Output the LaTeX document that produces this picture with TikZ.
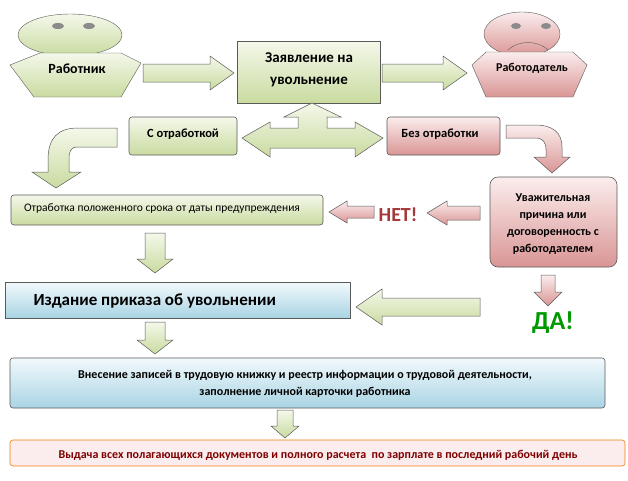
\documentclass[tikz,border=0pt]{standalone}
\usepackage{fontspec}
\setmainfont{Carlito}
\definecolor{gA}{HTML}{F4F8EA}\definecolor{gB}{HTML}{C9DBA0}
\definecolor{pA}{HTML}{FBEDED}\definecolor{pB}{HTML}{D99594}
\definecolor{bA}{HTML}{F2F9FC}\definecolor{bB}{HTML}{A9D4E4}
\definecolor{brd}{HTML}{5A5A5A}
\newcommand\fs[1]{\fontsize{#1}{#1}\selectfont}
\tikzset{
 gfill/.style={draw=brd,top color=gA,bottom color=gB},
 pfill/.style={draw=brd,top color=pA,bottom color=pB},
 bfill/.style={draw=brd,top color=bA,bottom color=bB},
 box/.style={rounded corners=3pt,line width=0.6pt},
 lbl/.style={font=\bfseries,align=center,text=black}
}
\newcommand\RArr[7]{\path[#7,line width=0.5pt] ({#1},{#3-#4}) -- ({#2-#6},{#3-#4}) -- ({#2-#6},{#3-#5}) -- ({#2},{#3}) -- ({#2-#6},{#3+#5}) -- ({#2-#6},{#3+#4}) -- ({#1},{#3+#4}) -- cycle;}
\newcommand\LArr[7]{\path[#7,line width=0.5pt] ({#1},{#3-#4}) -- ({#2+#6},{#3-#4}) -- ({#2+#6},{#3-#5}) -- ({#2},{#3}) -- ({#2+#6},{#3+#5}) -- ({#2+#6},{#3+#4}) -- ({#1},{#3+#4}) -- cycle;}
\newcommand\DArr[7]{\path[#7,line width=0.5pt] ({#3-#4},{#1}) -- ({#3-#4},{#2-#6}) -- ({#3-#5},{#2-#6}) -- ({#3},{#2}) -- ({#3+#5},{#2-#6}) -- ({#3+#4},{#2-#6}) -- ({#3+#4},{#1}) -- cycle;}
\begin{document}
\begin{tikzpicture}[x=1pt,y=-1pt]
\useasboundingbox[fill=white] (0,0) rectangle (628,480);
% worker
\path[gfill] (70,35) ellipse [x radius=52,y radius=21];
\path[gfill] (10,65) -- (40,53) -- (121,53) -- (141,63) -- (121,97) -- (34,97) -- cycle;
\path[fill=brd!70] (58,26) ellipse [x radius=6,y radius=3];
\path[fill=brd!70] (89,26) ellipse [x radius=6,y radius=3];
\node[lbl,font=\bfseries\fs{14}] (w) at (77,69) {Работник};
% employer
\path[pfill] (522,34) ellipse [x radius=38,y radius=22];
\path[pfill] (472,65) -- (486,52) -- (573,52) -- (587,65) -- (573,97) -- (486,97) -- cycle;
\path[fill=brd!70] (516,26) ellipse [x radius=5,y radius=3];
\path[fill=brd!70] (546,26) ellipse [x radius=5,y radius=3];
\draw[brd] (508,50) .. controls (518,40) and (538,40) .. (548,50);
\node[lbl,font=\bfseries\fs{12}] (e) at (532,68) {Работодатель};
% statement
\path[gfill,line width=0.6pt] (237,41) rectangle (380,103);
\node[lbl,font=\bfseries\fs{15},align=center] (st) at (309,70) {Заявление на\\[7pt]увольнение};
\RArr{143}{234}{73}{9}{17}{24}{gfill}
\RArr{382}{467}{73}{9}{17}{24}{gfill}
% T double arrow
\path[gfill,line width=0.5pt] (298,128) -- (298,117) -- (284,117) -- (312,103) -- (341,117) -- (327,117) -- (327,128)
 -- (355,128) -- (355,122) -- (383,138) -- (355,157) -- (355,148) -- (270,148) -- (270,157) -- (242,138) -- (270,122) -- (270,128) -- cycle;
\path[gfill,box] (129,117) rectangle (237,155);
\node[lbl,font=\bfseries\fs{12.5}] (so) at (183,134) {С отработкой};
\path[pfill,box] (387,117) rectangle (500,155);
\node[lbl,font=\bfseries\fs{12.5}] (bo) at (440,134) {Без отработки};
% curved arrows
\path[gfill,line width=0.5pt] (117,128) -- (117,147) -- (78,147) .. controls (70,147) and (69,152) .. (69,160) -- (69,172) -- (81,172) -- (56,188) -- (32,172) -- (48,172) -- (48,160) .. controls (48,138) and (58,128) .. (78,128) -- cycle;
\path[pfill,line width=0.5pt] (506,125) -- (506,138) -- (535,138) .. controls (543,138) and (546,142) .. (546,150) -- (546,157) -- (534,157) -- (552,173) -- (570,157) -- (562,157) -- (562,147) .. controls (562,132) and (552,125) .. (535,125) -- cycle;
% otrabotka
\path[gfill,box] (11,195) rectangle (323,225);
\node[font=\fs{11.5}] (ot) at (162,209) {Отработка положенного срока от даты предупреждения};
% uvazh
\path[pfill,line width=0.6pt,rounded corners=8pt] (490,177) rectangle (617,267);
\node[lbl,font=\bfseries\fs{12},align=center] (uv) at (553,224) {Уважительная\\[5pt]причина или\\[5pt]договоренность с\\[5pt]работодателем};
% NET
\LArr{480}{427}{213}{7}{12}{20}{pfill}
\node[font=\bfseries\fs{20},text=pB!55!red!70!black] (net) at (398,215) {НЕТ!};
\LArr{374}{329}{212}{6}{11}{18}{pfill}
% izdanie
\DArr{233}{273}{155}{10}{18}{14}{gfill}
\path[bfill,line width=0.6pt] (5,282) rectangle (350,318);
\node[font=\bfseries\fs{17},anchor=west] (iz) at (30,301) {Издание приказа об увольнении};
\LArr{480}{356}{307}{9}{18}{26}{gfill}
\DArr{275}{306}{548}{7}{14}{14}{pfill}
\node[font=\bfseries\fs{26},text=green!60!black] (da) at (553,323) {ДА!};
% vnesenie
\DArr{322}{354}{155}{10}{18}{14}{gfill}
\path[bfill,box] (10,358) rectangle (605,408);
\node[font=\bfseries\fs{12},align=center] (vn) at (305,384) {Внесение записей в трудовую книжку и реестр информации о трудовой деятельности,\\[5pt]заполнение личной карточки работника};
\DArr{410}{438}{285}{8}{14}{12}{gfill}
% vydacha
\path[draw=orange!80!brown,fill=pA,box] (10,440) rectangle (625,466);
\node[font=\bfseries\fs{12},text=red!50!black] (vy) at (318,455) {Выдача всех полагающихся документов и полного расчета\ \ по зарплате в последний рабочий день};
\end{tikzpicture}
\end{document}
